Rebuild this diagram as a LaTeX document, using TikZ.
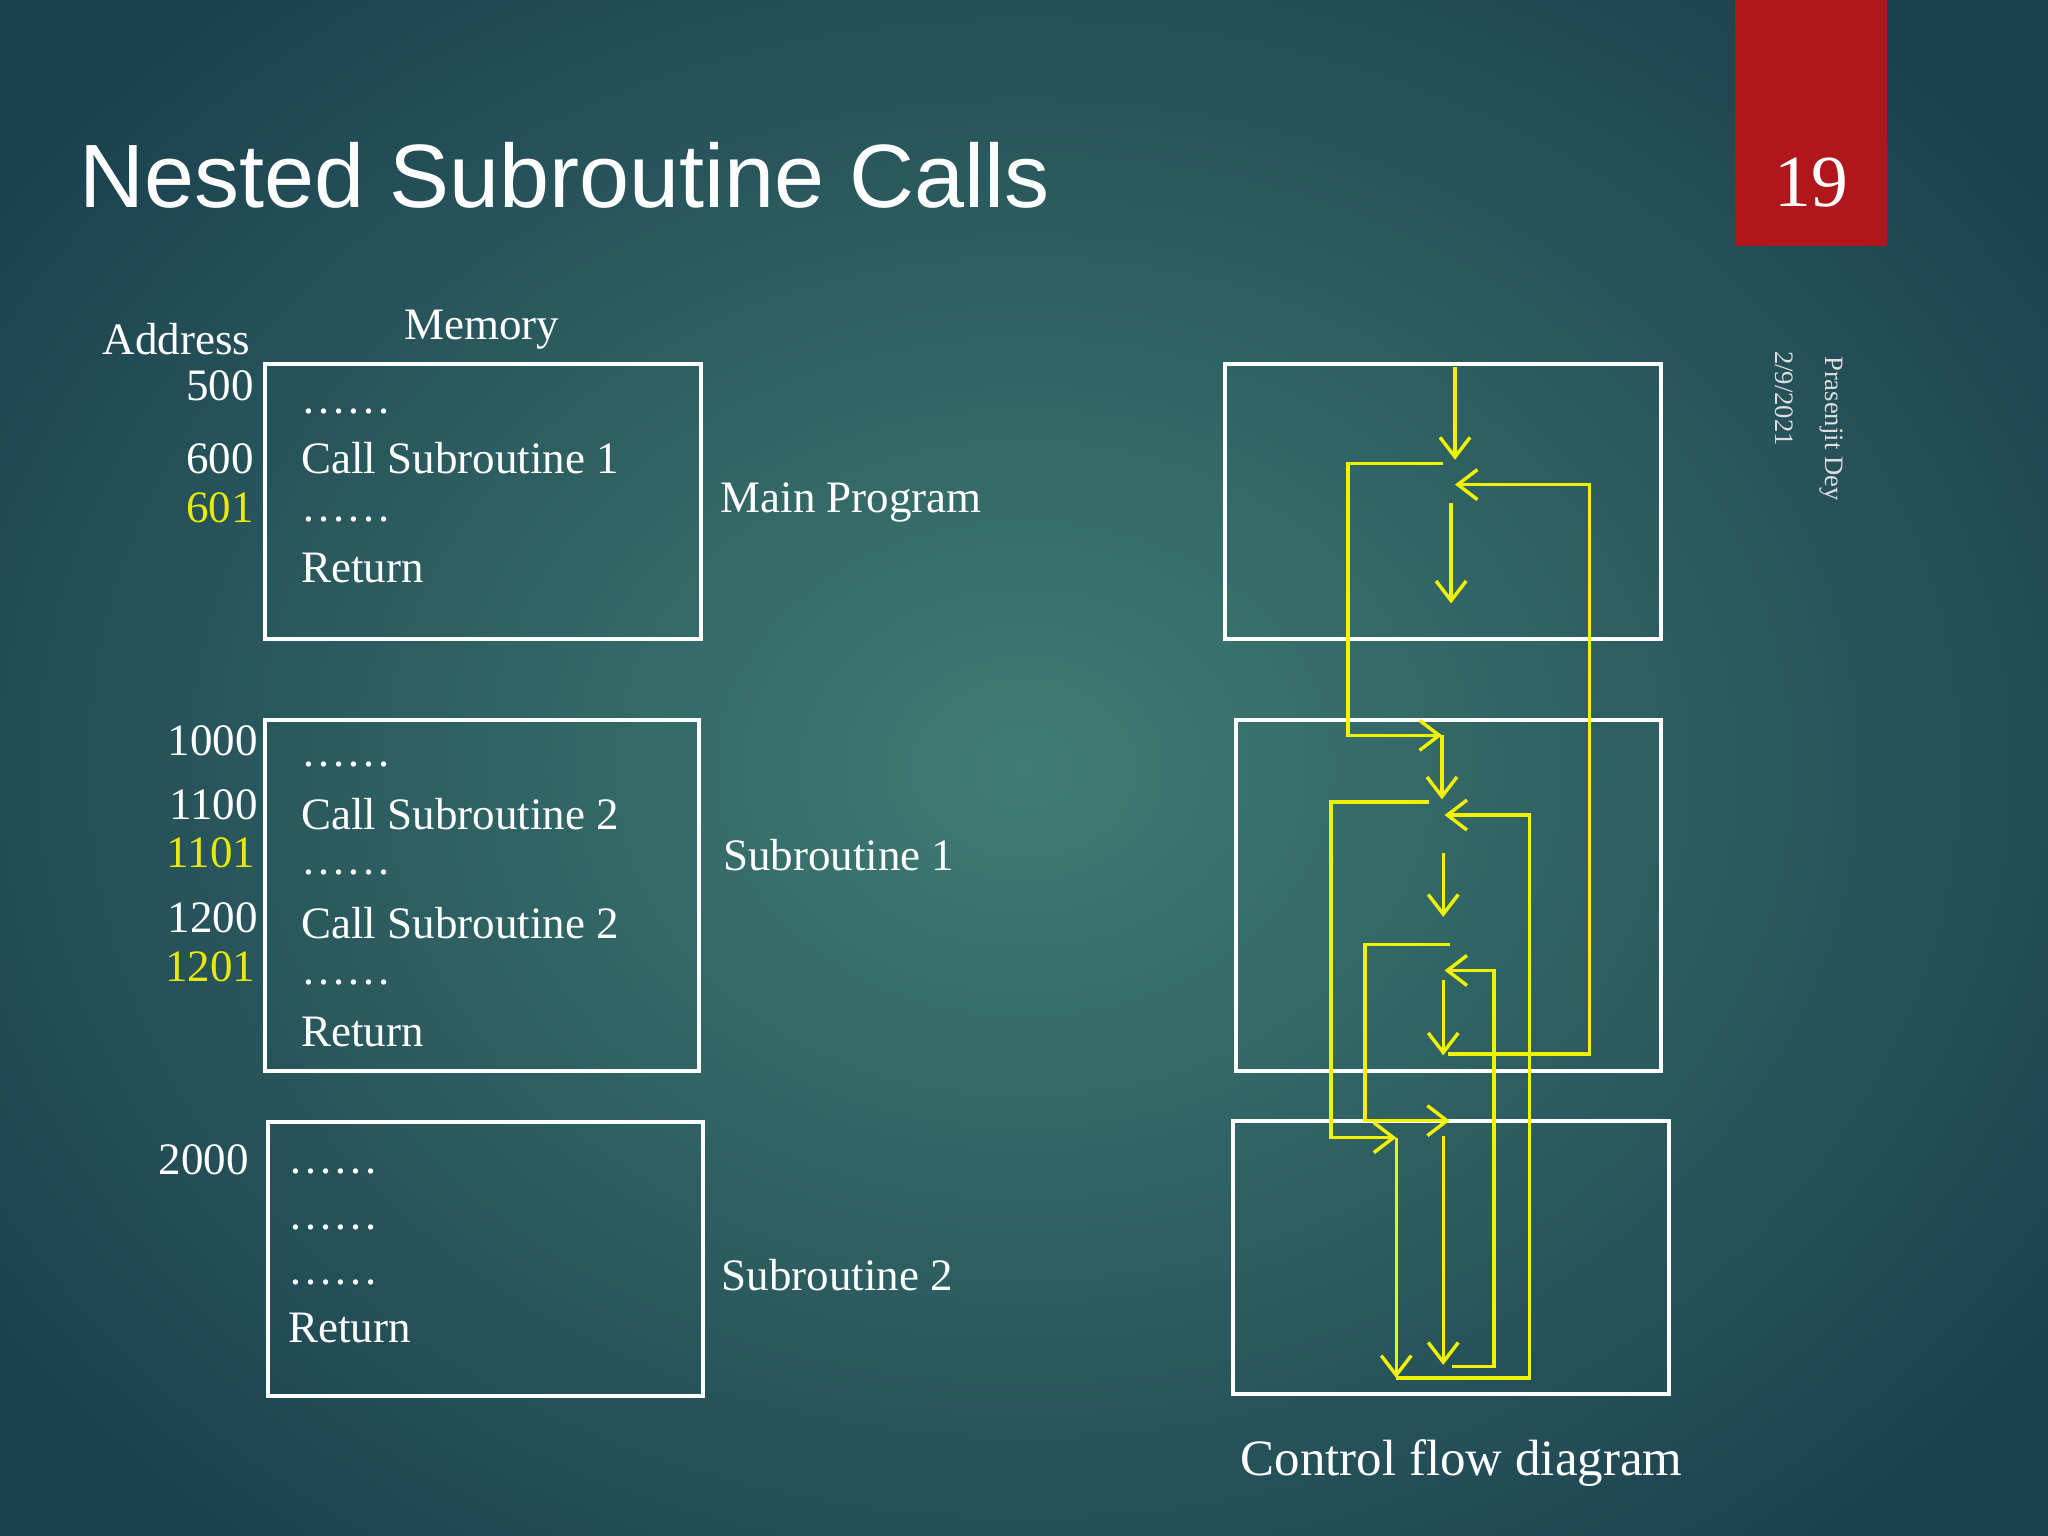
\documentclass[tikz,border=0pt]{standalone}
\usepackage{fontspec}
\setmainfont{Liberation Serif}
\newfontfamily\titlefont{Liberation Sans}
\usetikzlibrary{arrows.meta}
\definecolor{bgin}{HTML}{3F7C73}
\definecolor{bgout}{HTML}{1A3F4E}
\definecolor{slidered}{HTML}{B0171A}
\definecolor{flow}{HTML}{F2F200}
\definecolor{addryel}{HTML}{E8E80A}
\begin{document}
\begin{tikzpicture}[x=0.1mm,y=-0.1mm,
  box/.style={draw=white,line width=0.9pt},
  txt/.style={text=white,font=\fontsize{9.8}{11}\selectfont,inner sep=0pt},
  addr/.style={txt,anchor=east},
  cont/.style={txt,anchor=west},
  fl/.style={draw=flow,line width=0.75pt},
  fa/.style={fl,-{Straight Barb[length=1.5mm,width=2.3mm,line width=0.75pt]}}]
\path[use as bounding box] (0,0) rectangle (1568,1176);
\shade[inner color=bgin,outer color=bgout] (-200,-200) rectangle (1768,1376);
% red tab
\fill[slidered] (1328,0) rectangle (1445,188);
\node[text=white,font=\fontsize{16}{18}\selectfont] (pg) at (1387,140) {19};
\node[text=white,font=\titlefont\fontsize{19.6}{22}\selectfont,anchor=west,inner sep=0pt] (title) at (60,134) {Nested Subroutine Calls};
\node[text=white!75!gray,rotate=-90,font=\fontsize{5.8}{7}\selectfont] (au) at (1402,328) {Prasenjit Dey};
\node[text=white!75!gray,rotate=-90,font=\fontsize{5.8}{7}\selectfont] (dt) at (1366,305) {2/9/2021};
% memory boxes
\draw[box] (203,279) rectangle (537,489);
\draw[box] (203,551) rectangle (535,820);
\draw[box] (205,859) rectangle (538,1069);
\node[txt] (ad) at (135,260) {Address};
\node[txt] (mem) at (369,252) {Memory};
\node[addr] (a1) at (195,295) {500};
\node[addr] (a2) at (195,351) {600};
\node[addr,text=addryel] (a3) at (195,389) {601};
\node[addr] (a4) at (198,567) {1000};
\node[addr] (a5) at (198,616) {1100};
\node[addr,text=addryel] (a6) at (196,653) {1101};
\node[addr] (a7) at (198,703) {1200};
\node[addr,text=addryel] (a8) at (196,740) {1201};
\node[addr] (a9) at (191,888) {2000};
\node[cont] (m1) at (230,315) {……};
\node[cont] (m2) at (230,351) {Call Subroutine 1};
\node[cont] (m3) at (230,398) {……};
\node[cont] (m4) at (230,435) {Return};
\node[cont] (s1) at (230,585) {……};
\node[cont] (s2) at (230,623) {Call Subroutine 2};
\node[cont] (s3) at (230,668) {……};
\node[cont] (s4) at (230,707) {Call Subroutine 2};
\node[cont] (s5) at (230,752) {……};
\node[cont] (s6) at (230,790) {Return};
\node[cont] (t1) at (220,897) {……};
\node[cont] (t2) at (220,940) {……};
\node[cont] (t3) at (220,982) {……};
\node[cont] (t4) at (220,1017) {Return};
\node[cont] (l1) at (551,385) {Main Program};
\node[cont] (l2) at (553,655) {Subroutine 1};
\node[cont] (l3) at (552,976) {Subroutine 2};
% control flow boxes
\draw[box] (938,279) rectangle (1272,489);
\draw[box] (946,551) rectangle (1272,820);
\draw[box] (944,858) rectangle (1278,1067);
\node[txt,font=\fontsize{11.1}{13}\selectfont] (cf) at (1119,1120) {Control flow diagram};
% flows
\draw[fa] (1114,281) -- (1114,352);
\draw[fa] (1105,355) -- (1032,355) -- (1032,563) -- (1104,563);
\draw[fa] (1104,563) -- (1104,612);
\draw[fa] (1094,614) -- (1019,614) -- (1019,871) -- (1069,871);
\draw[fa] (1069,871) -- (1069,1055);
\draw[fa] (1069,1055) -- (1171,1055) -- (1171,624) -- (1106,624);
\draw[fa] (1105,653) -- (1105,702);
\draw[fa] (1110,723) -- (1045,723) -- (1045,858) -- (1110,858);
\draw[fa] (1105,870) -- (1105,1045);
\draw[fa] (1112,1046) -- (1144,1046) -- (1144,743) -- (1106,743);
\draw[fa] (1105,750) -- (1105,808);
\draw[fa] (1109,807) -- (1217,807) -- (1217,371) -- (1114,371);
\draw[fa] (1111,385) -- (1111,462);
\end{tikzpicture}
\end{document}
